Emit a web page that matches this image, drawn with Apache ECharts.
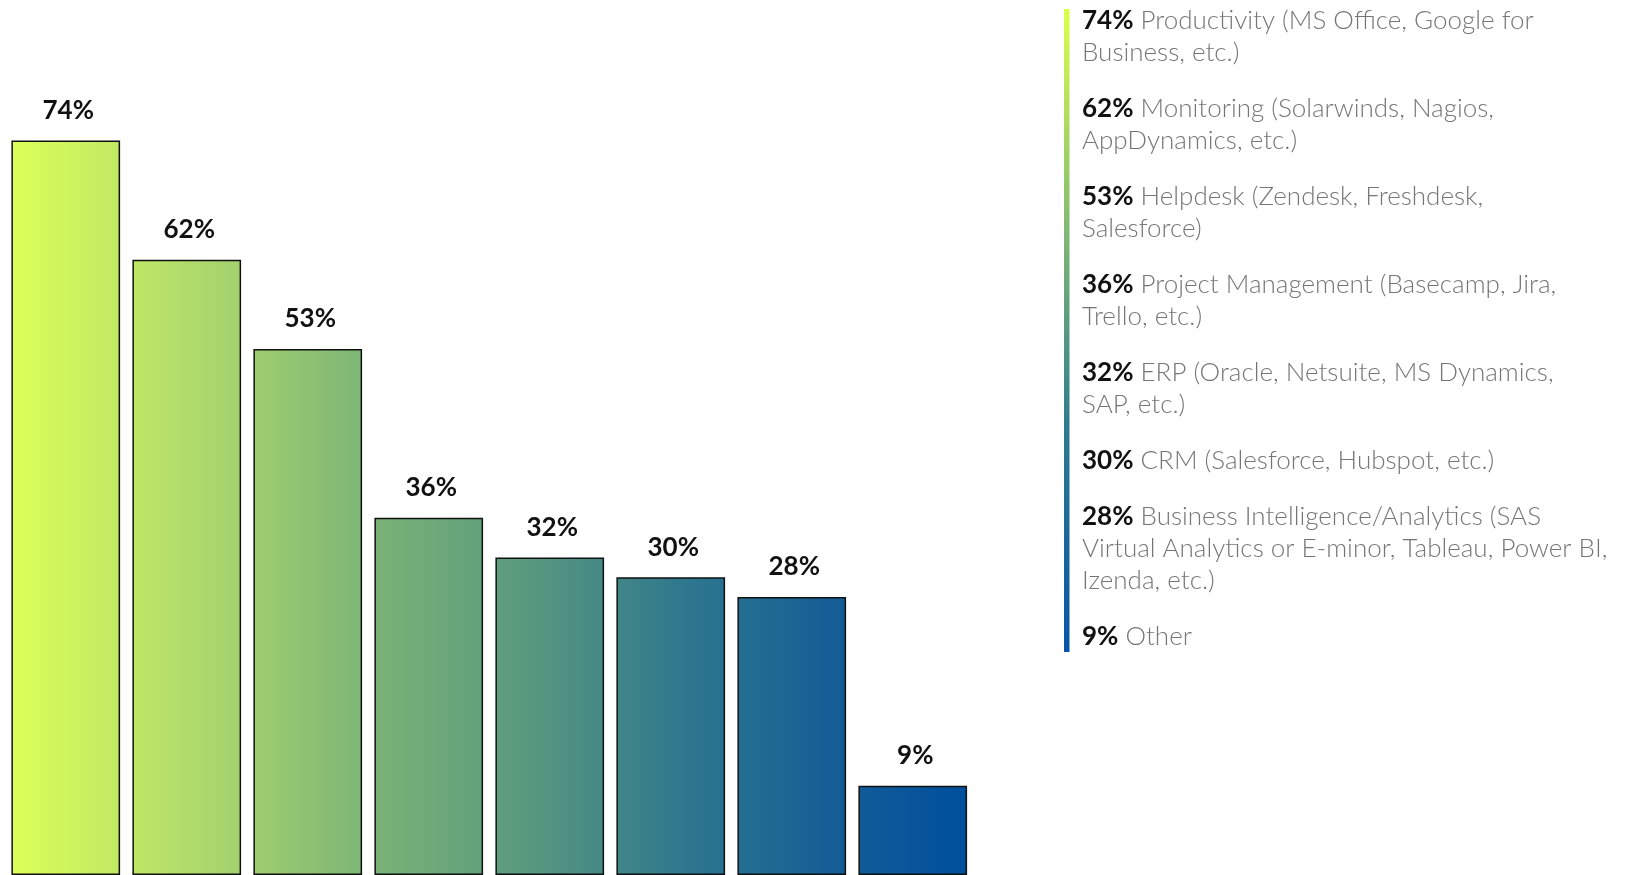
<!DOCTYPE html>
<html>
<head>
<meta charset="utf-8">
<title>Application categories</title>
<script src="https://cdn.jsdelivr.net/npm/echarts@6/dist/echarts.min.js"></script>
<style>
  html, body { margin: 0; padding: 0; background: #ffffff; }
  #chart { width: 1631px; height: 875px; }
</style>
</head>
<body>
<div id="chart"></div>
<script>
// Share of respondents using each application category (%)
const values = [74, 62, 53, 36, 32, 30, 28, 9];

// Category descriptions, with the line breaks used in the side list
const categories = [
  'Productivity (MS Office, Google for\nBusiness, etc.)',
  'Monitoring (Solarwinds, Nagios,\nAppDynamics, etc.)',
  'Helpdesk (Zendesk, Freshdesk,\nSalesforce)',
  'Project Management (Basecamp, Jira,\nTrello, etc.)',
  'ERP (Oracle, Netsuite, MS Dynamics,\nSAP, etc.)',
  'CRM (Salesforce, Hubspot, etc.)',
  'Business Intelligence/Analytics (SAS\nVirtual Analytics or E-minor, Tableau, Power BI,\nIzenda, etc.)',
  'Other'
];

// Green-to-blue ramp shared by the bars and the list marker
const rampStops = [
  { offset: 0.00, color: '#dcff58' },
  { offset: 0.18, color: '#b2dd6b' },
  { offset: 0.38, color: '#7ab376' },
  { offset: 0.55, color: '#56977f' },
  { offset: 0.70, color: '#30788e' },
  { offset: 0.86, color: '#145e96' },
  { offset: 1.00, color: '#004f9e' }
];

const chart = echarts.init(document.getElementById('chart'), null, { renderer: 'canvas' });

const FONT = 'Lato, "Open Sans", "Noto Sans", sans-serif';
const LIST_SIZE = 26;
const LINE_H = 32.2;
const ITEM_GAP = 23.6;
const LIST_X = 1082;
const LIST_TOP = 4.7;

// Side list: one rich-text block per category, stacked by line count
const listItems = [];
let yCursor = LIST_TOP;
categories.forEach(function (name, i) {
  listItems.push({
    type: 'text',
    x: LIST_X,
    y: yCursor,
    style: {
      text: '{v|' + values[i] + '%} {d|' + name + '}',
      fontFamily: FONT,
      fontSize: LIST_SIZE,
      fontWeight: 300,
      fill: '#767676',
      lineHeight: LINE_H,
      verticalAlign: 'top',
      align: 'left',
      rich: {
        v: { fontFamily: FONT, fontSize: LIST_SIZE, fontWeight: 'bold', fill: '#111111', lineHeight: LINE_H },
        d: { fontFamily: FONT, fontSize: LIST_SIZE, fontWeight: 300, fill: '#767676', lineHeight: LINE_H }
      }
    }
  });
  yCursor += name.split('\n').length * LINE_H + ITEM_GAP;
});

const option = {
  backgroundColor: '#ffffff',
  animation: false,
  grid: { left: 5.25, width: 968, top: 81, bottom: -1.5, containLabel: false },
  xAxis: {
    type: 'category',
    data: categories,
    show: false
  },
  yAxis: {
    type: 'value',
    min: 0,
    max: 80,
    show: false
  },
  series: [{
    type: 'bar',
    data: values,
    barWidth: 108.7,
    itemStyle: {
      color: {
        type: 'linear',
        x: 11, y: 0, x2: 967, y2: 0,
        global: true,
        colorStops: rampStops
      },
      borderColor: '#111111',
      borderWidth: 1.5
    },
    label: {
      show: true,
      position: 'top',
      distance: 17,
      offset: [2.5, 0],
      formatter: '{c}%',
      fontFamily: FONT,
      fontSize: 26,
      fontWeight: 'bold',
      color: '#111111'
    }
  }],
  graphic: [
    {
      type: 'rect',
      shape: { x: 1064, y: 9, width: 5.5, height: 643 },
      style: {
        fill: {
          type: 'linear',
          x: 0, y: 0, x2: 0, y2: 1,
          colorStops: [
            { offset: 0, color: '#dcff4a' },
            { offset: 0.35, color: '#80b874' },
            { offset: 0.65, color: '#2f7a8e' },
            { offset: 1, color: '#0754a8' }
          ]
        }
      }
    }
  ].concat(listItems)
};

chart.setOption(option);
</script>
</body>
</html>
